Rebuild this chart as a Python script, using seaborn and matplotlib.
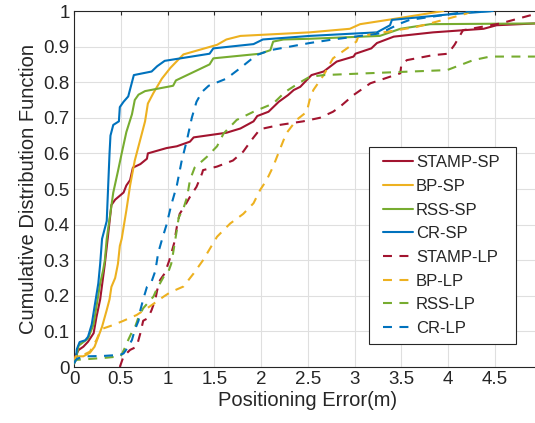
import numpy as np
import pandas as pd
import matplotlib
matplotlib.use("Agg")
import matplotlib.pyplot as plt
import seaborn as sns
from matplotlib.legend_handler import HandlerLine2D

# ---------------- data ----------------
stamp_sp_x = [0.0, 0.02, 0.05, 0.10, 0.15, 0.21, 0.24, 0.28, 0.31, 0.33, 0.36, 0.40, 0.44, 0.53, 0.56,
              0.60, 0.63, 0.71, 0.78, 0.79, 0.99, 1.10, 1.24, 1.28, 1.63, 1.78, 1.92, 1.96, 2.08, 2.19,
              2.29, 2.35, 2.42, 2.54, 2.67, 2.81, 2.99, 3.01, 3.18, 3.24, 3.42, 3.84, 4.38, 4.52, 4.93]
stamp_sp_y = [0.02, 0.034, 0.048, 0.057, 0.071, 0.095, 0.14, 0.19, 0.25, 0.29, 0.36, 0.455, 0.47, 0.49, 0.51,
              0.525, 0.56, 0.57, 0.585, 0.60, 0.615, 0.62, 0.633, 0.645, 0.658, 0.67, 0.69, 0.705, 0.717, 0.745,
              0.764, 0.778, 0.787, 0.82, 0.83, 0.858, 0.872, 0.88, 0.895, 0.91, 0.928, 0.94, 0.95, 0.96, 0.965]

bp_sp_x = [0.0, 0.02, 0.10, 0.17, 0.22, 0.26, 0.30, 0.35, 0.38, 0.40, 0.44, 0.47, 0.49, 0.51, 0.56, 0.60,
           0.65, 0.71, 0.76, 0.79, 0.85, 0.94, 1.03, 1.17, 1.53, 1.63, 1.78, 2.52, 2.95, 3.06, 3.38, 3.95]
bp_sp_y = [0.01, 0.03, 0.03, 0.04, 0.057, 0.085, 0.113, 0.16, 0.19, 0.225, 0.25, 0.29, 0.34, 0.36, 0.44, 0.51,
           0.58, 0.64, 0.69, 0.74, 0.77, 0.81, 0.84, 0.878, 0.905, 0.92, 0.93, 0.94, 0.95, 0.963, 0.976, 1.0]

rss_sp_x = [0.0, 0.02, 0.05, 0.10, 0.15, 0.21, 0.28, 0.31, 0.33, 0.35, 0.42, 0.47, 0.51, 0.56, 0.62, 0.65,
            0.69, 0.76, 1.06, 1.09, 1.21, 1.45, 1.49, 1.99, 2.10, 2.13, 2.24, 2.52, 3.27, 3.49, 3.81, 4.93]
rss_sp_y = [0.01, 0.02, 0.06, 0.07, 0.08, 0.12, 0.235, 0.27, 0.30, 0.36, 0.49, 0.55, 0.60, 0.66, 0.71, 0.75,
            0.765, 0.775, 0.79, 0.805, 0.82, 0.85, 0.867, 0.88, 0.89, 0.914, 0.92, 0.922, 0.93, 0.95, 0.963, 0.965]

cr_sp_x = [0.0, 0.02, 0.03, 0.06, 0.12, 0.15, 0.19, 0.22, 0.26, 0.28, 0.30, 0.35, 0.38, 0.39, 0.42, 0.48,
           0.49, 0.53, 0.58, 0.62, 0.64, 0.83, 0.89, 0.97, 1.45, 1.49, 1.92, 2.02, 2.52, 3.24, 3.38, 3.40,
           3.99, 4.48]
cr_sp_y = [0.01, 0.02, 0.05, 0.07, 0.075, 0.085, 0.12, 0.17, 0.235, 0.29, 0.36, 0.41, 0.60, 0.65, 0.68, 0.69,
           0.73, 0.745, 0.76, 0.80, 0.82, 0.83, 0.845, 0.86, 0.88, 0.895, 0.907, 0.92, 0.93, 0.94, 0.96, 0.975,
           0.99, 1.0]

stamp_lp_x = [0.49, 0.53, 0.60, 0.67, 0.71, 0.74, 0.79, 0.83, 0.87, 0.89, 0.92, 0.97, 1.02, 1.07, 1.10,
              1.13, 1.19, 1.24, 1.31, 1.37, 1.38, 1.53, 1.70, 1.81, 1.90, 1.99, 2.20, 2.45, 2.63, 2.77,
              2.84, 2.99, 3.17, 3.49, 3.50, 3.56, 3.84, 4.00, 4.07, 4.13, 4.16, 4.56, 4.91]
stamp_lp_y = [0.0, 0.03, 0.048, 0.057, 0.095, 0.13, 0.137, 0.16, 0.19, 0.216, 0.244, 0.263, 0.30, 0.347, 0.394,
              0.43, 0.455, 0.478, 0.506, 0.544, 0.553, 0.563, 0.58, 0.605, 0.638, 0.668, 0.68, 0.69, 0.70, 0.717,
              0.73, 0.764, 0.797, 0.825, 0.848, 0.862, 0.876, 0.88, 0.905, 0.932, 0.946, 0.965, 0.99]

bp_lp_x = [0.0, 0.02, 0.10, 0.17, 0.24, 0.28, 0.31, 0.42, 0.53, 0.67, 0.81, 0.96, 1.03, 1.17, 1.28, 1.38,
           1.53, 1.67, 1.81, 1.92, 1.99, 2.06, 2.13, 2.20, 2.27, 2.38, 2.49, 2.52, 2.56, 2.67, 2.77, 2.92,
           3.02, 3.04, 3.24, 3.66, 3.95, 4.20, 4.25]
bp_lp_y = [0.01, 0.03, 0.034, 0.043, 0.076, 0.10, 0.108, 0.118, 0.13, 0.146, 0.17, 0.198, 0.21, 0.226, 0.263,
           0.30, 0.366, 0.403, 0.43, 0.46, 0.497, 0.525, 0.563, 0.61, 0.656, 0.694, 0.717, 0.75, 0.778, 0.82,
           0.867, 0.895, 0.914, 0.928, 0.937, 0.955, 0.975, 0.993, 1.0]

rss_lp_x = [0.0, 0.02, 0.30, 0.50, 0.55, 0.58, 0.63, 0.65, 0.69, 0.74, 0.79, 0.85, 0.88, 0.92, 0.96, 1.01,
            1.04, 1.06, 1.10, 1.12, 1.17, 1.21, 1.24, 1.29, 1.42, 1.53, 1.60, 1.74, 1.92, 2.13, 2.26, 2.42,
            2.52, 2.67, 3.13, 3.99, 4.27, 4.45, 4.93]
rss_lp_y = [0.01, 0.02, 0.025, 0.03, 0.057, 0.076, 0.104, 0.11, 0.14, 0.165, 0.18, 0.198, 0.216, 0.235, 0.254,
            0.268, 0.29, 0.32, 0.385, 0.42, 0.445, 0.478, 0.525, 0.56, 0.59, 0.62, 0.656, 0.694, 0.717, 0.74,
            0.773, 0.80, 0.815, 0.82, 0.825, 0.834, 0.862, 0.872, 0.872]

cr_lp_x = [0.0, 0.02, 0.05, 0.14, 0.31, 0.49, 0.53, 0.58, 0.62, 0.65, 0.69, 0.71, 0.74, 0.78, 0.83, 0.87,
           0.90, 0.94, 0.99, 1.04, 1.10, 1.15, 1.21, 1.26, 1.31, 1.37, 1.44, 1.63, 1.78, 1.95, 2.10, 2.52,
           2.77, 3.27, 3.49, 3.59, 4.20, 4.49]
cr_lp_y = [0.01, 0.02, 0.025, 0.03, 0.031, 0.034, 0.038, 0.057, 0.076, 0.104, 0.13, 0.16, 0.19, 0.225, 0.24,
           0.27, 0.32, 0.357, 0.40, 0.455, 0.51, 0.577, 0.64, 0.70, 0.745, 0.773, 0.79, 0.81, 0.84, 0.876, 0.89,
           0.91, 0.92, 0.937, 0.965, 0.975, 0.998, 1.0]

series_labels = ["STAMP-SP", "BP-SP", "RSS-SP", "CR-SP", "STAMP-LP", "BP-LP", "RSS-LP", "CR-LP"]
series_x = [stamp_sp_x, bp_sp_x, rss_sp_x, cr_sp_x, stamp_lp_x, bp_lp_x, rss_lp_x, cr_lp_x]
series_y = [stamp_sp_y, bp_sp_y, rss_sp_y, cr_sp_y, stamp_lp_y, bp_lp_y, rss_lp_y, cr_lp_y]

x_ticks = [0, 0.5, 1, 1.5, 2, 2.5, 3, 3.5, 4, 4.5]
x_tick_labels = ["0", "0.5", "1", "1.5", "2", "2.5", "3", "3.5", "4", "4.5"]
y_ticks = [0, 0.1, 0.2, 0.3, 0.4, 0.5, 0.6, 0.7, 0.8, 0.9, 1]
y_tick_labels = ["0", "0.1", "0.2", "0.3", "0.4", "0.5", "0.6", "0.7", "0.8", "0.9", "1"]

# ---------------- style ----------------
colors = {"STAMP": "#A2142F", "BP": "#EDB120", "RSS": "#77AC30", "CR": "#0072BD"}
TXT = "#262626"

sns.set_theme(style="white")
plt.rcParams["font.family"] = ["Liberation Sans", "DejaVu Sans"]
plt.rcParams["text.color"] = TXT
plt.rcParams["axes.labelcolor"] = TXT
plt.rcParams["xtick.color"] = TXT
plt.rcParams["ytick.color"] = TXT

fig = plt.figure(figsize=(5.35, 4.23), dpi=100)
W, H = 535.0, 423.0
ax = fig.add_axes([74 / W, (H - 367) / H, 467.5 / W, 356 / H])

rows = []
for lab, xs, ys in zip(series_labels, series_x, series_y):
    for i, (xv, yv) in enumerate(zip(xs, ys)):
        rows.append({"series": lab, "order": i, "x": xv, "y": yv})
df = pd.DataFrame(rows)

dash = (4.3, 3.6)
handles = []
for lab in series_labels:
    sub = df[df["series"] == lab].sort_values("order")
    col = colors[lab.split("-")[0]]
    ls = "-" if lab.endswith("SP") else (0, dash)
    sns.lineplot(data=sub, x="x", y="y", ax=ax, sort=False, estimator=None,
                 color=col, linewidth=1.5, linestyle=ls, legend=False, zorder=3)
    handles.append(ax.lines[-1])

ax.set_xlim(0, 5)
ax.set_ylim(0, 1)
ax.set_xticks(x_ticks)
ax.set_xticklabels(x_tick_labels)
ax.set_yticks(y_ticks)
ax.set_yticklabels(y_tick_labels)
ax.tick_params(axis="both", which="both", direction="in", length=3, width=0.8,
               labelsize=13.5, top=True, right=True, pad=3)
ax.grid(True, color="#dfdfdf", linewidth=0.8, zorder=0)
ax.set_axisbelow(True)
for sp in ax.spines.values():
    sp.set_color(TXT)
    sp.set_linewidth(0.8)
ax.set_xlabel("Positioning Error(m)", fontsize=14.5, labelpad=2)
ax.set_ylabel("Cumulative Distribution Function", fontsize=14.5, labelpad=4)


class LeftPadLine(HandlerLine2D):
    def __init__(self, lpad_pt, **kw):
        super().__init__(**kw)
        self.lpad_pt = lpad_pt

    def get_xdata(self, legend, xdescent, ydescent, width, height, fontsize):
        xd = np.array([-xdescent + self.lpad_pt, -xdescent + width])
        return xd, xd


fs_leg = 12
em = fs_leg * 100 / 72.0
lpad = 5.7
leg = ax.legend(handles, series_labels, loc="upper left",
                bbox_to_anchor=(369 / W, (H - 344) / H, 147 / W, 197 / H),
                bbox_transform=fig.transFigure, mode="expand", borderaxespad=0,
                fontsize=fs_leg, frameon=True, fancybox=False, framealpha=1,
                edgecolor=TXT, borderpad=0.5, labelspacing=0.52,
                handlelength=(lpad + 30) / em, handletextpad=0.18,
                handler_map={h: LeftPadLine(lpad * 72 / 100.0) for h in handles})
leg.get_frame().set_linewidth(0.8)
for t in leg.get_texts():
    t.set_color(TXT)

fig.savefig("out.png", dpi=100)
